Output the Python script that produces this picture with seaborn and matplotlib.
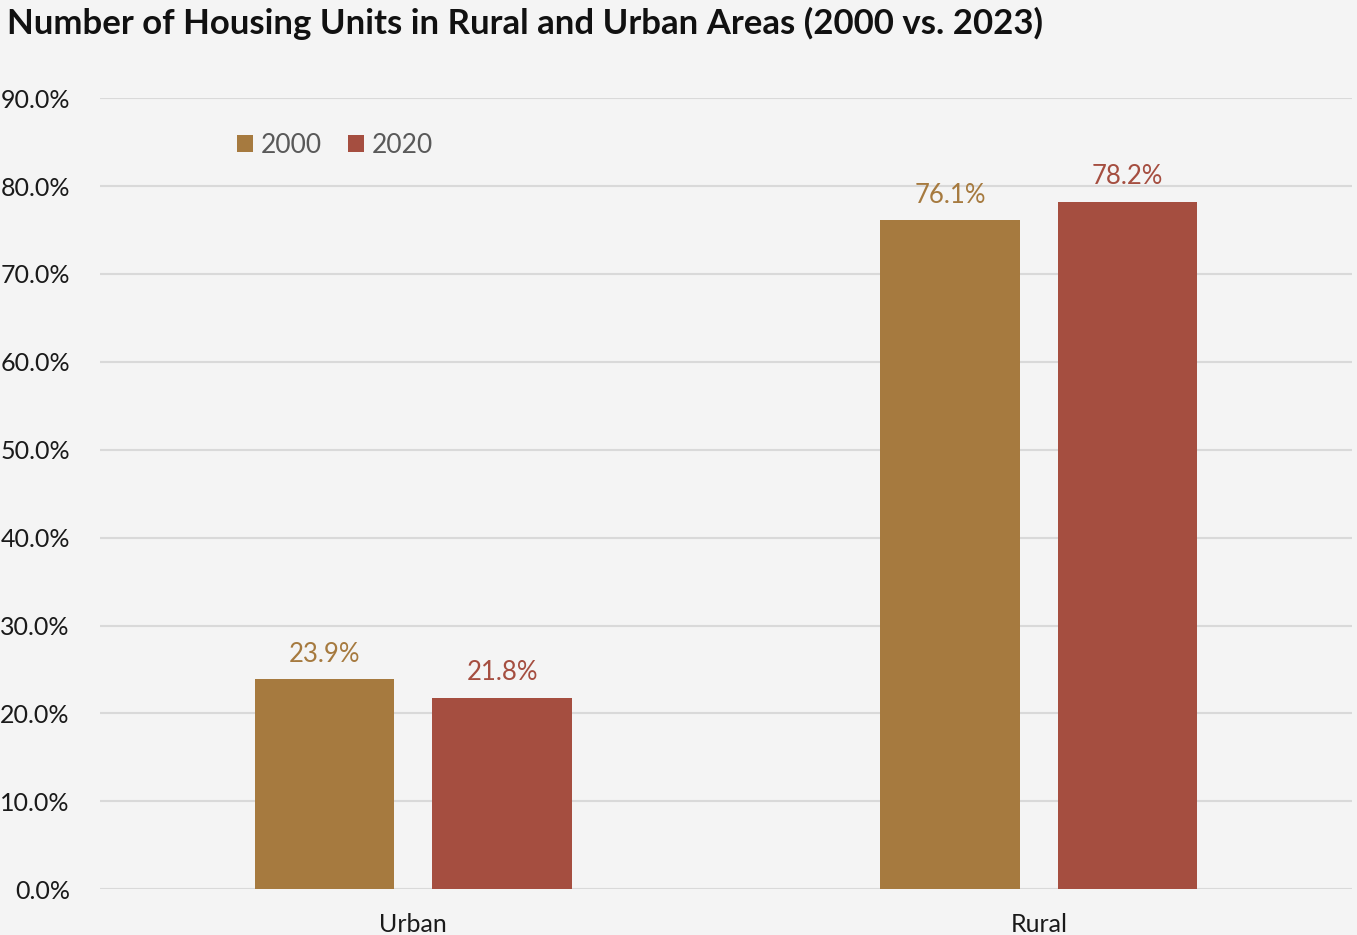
import matplotlib
matplotlib.use('Agg')
import matplotlib.pyplot as plt
import pandas as pd
import seaborn as sns
from matplotlib.ticker import PercentFormatter

areas = ['Urban', 'Rural']
years = ['2000', '2020']
share_2000 = [23.9, 76.1]
share_2020 = [21.8, 78.2]
colors = {'2000': '#a67a3f', '2020': '#a54e40'}

df = pd.DataFrame({
    'Area': areas * 2,
    'Year': [years[0]] * 2 + [years[1]] * 2,
    'Share': share_2000 + share_2020,
})

sns.set_theme(style='white')
plt.rcParams['font.family'] = ['Lato', 'DejaVu Sans']

fig = plt.figure(figsize=(13.57, 9.35), dpi=100, facecolor='#f4f4f4')
ax = fig.add_axes([0.074, 0.049, 0.922, 0.846])
ax.set_facecolor('#f4f4f4')

sns.barplot(data=df, x='Area', y='Share', hue='Year', palette=colors,
            saturation=1, width=0.568, gap=0.214, linewidth=0, ax=ax, zorder=3)

for container, year in zip(ax.containers, years):
    ax.bar_label(container, labels=[f'{v:.1f}%' for v in container.datavalues],
                 padding=9, color=colors[year], fontsize=18.5)

ax.set_ylim(0, 90)
ax.set_xlim(-0.5, 1.5)
ax.set_yticks(range(0, 91, 10))
ax.yaxis.set_major_formatter(PercentFormatter(decimals=1))
ax.grid(axis='y', color='#d9d9d9', linewidth=1.5, zorder=0)
ax.set_axisbelow(True)
for s in ax.spines.values():
    s.set_visible(False)
ax.tick_params(axis='y', length=0, pad=22, labelsize=18, labelcolor='#1a1a1a')
ax.tick_params(axis='x', length=0, pad=17, labelsize=18, labelcolor='#1a1a1a')
ax.set_xlabel('')
ax.set_ylabel('')

ax.legend(loc='upper left', bbox_to_anchor=(0.09, 0.986), ncol=2, frameon=False,
          handlelength=0.6, handleheight=0.6, handletextpad=0.3, columnspacing=1.0,
          fontsize=19, labelcolor='#595959')

fig.text(0.005, 0.975, 'Number of Housing Units in Rural and Urban Areas (2000 vs. 2023)',
         fontsize=25, fontweight='bold', color='#111111', va='center', ha='left')

fig.savefig('out.png', dpi=100, facecolor=fig.get_facecolor())
